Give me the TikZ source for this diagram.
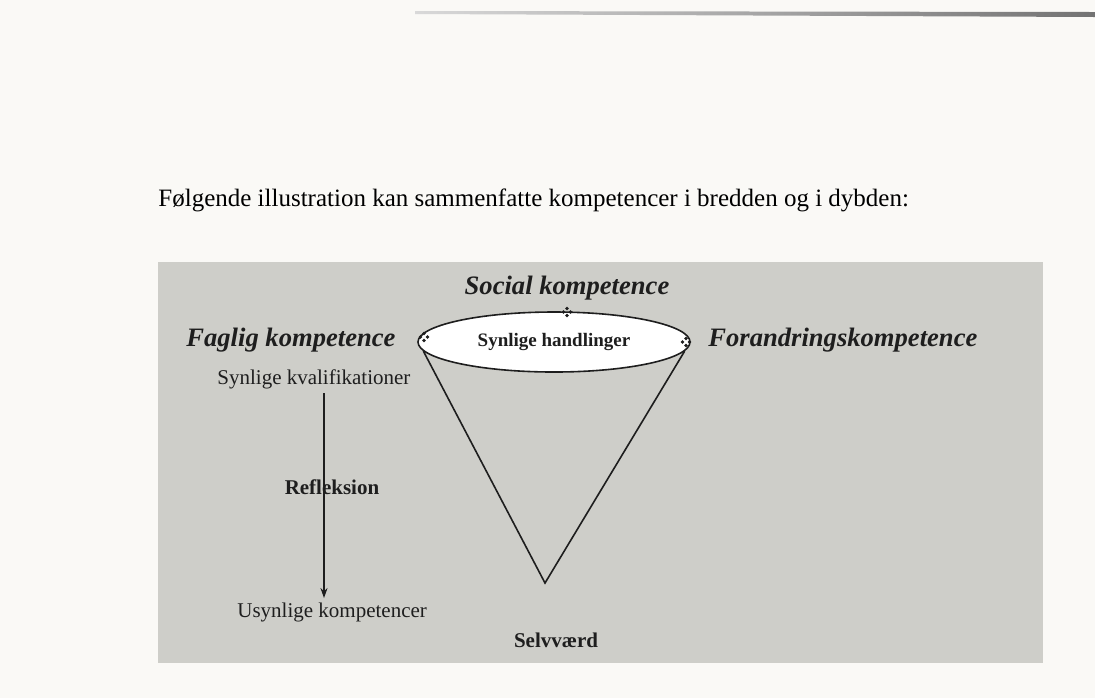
\documentclass[tikz,border=0pt]{standalone}
\usepackage{fontspec}
\setmainfont{Liberation Serif}
\usetikzlibrary{shapes.geometric,arrows.meta}
\definecolor{paper}{RGB}{250,249,246}
\definecolor{screen}{RGB}{206,206,201}
\definecolor{ink}{RGB}{30,30,30}
\tikzset{
  introtext/.style={font=\fontsize{12.5}{15}\selectfont, inner sep=0pt},
  heading/.style={font=\fontsize{13.3}{15}\selectfont\bfseries\itshape, text=ink, inner sep=0pt},
  plainlabel/.style={font=\fontsize{10.5}{12}\selectfont, text=ink, inner sep=0pt},
  boldlabel/.style={font=\fontsize{10.5}{12}\selectfont\bfseries, text=ink, inner sep=0pt},
}
\newcommand{\grip}[2]{%
  \foreach \dx/\dy in {0/-3.5,0/3.5,-3.5/0,3.5/0}
    \fill[ink] (#1+\dx,#2+\dy) circle (1.8);}

\begin{document}
\begin{tikzpicture}[x=0.5pt,y=-0.5pt]
	\fill[paper] (0,0) rectangle (1095,698);
	\useasboundingbox (0,0) rectangle (1095,698);
	% scan edge at the top
	\shade[left color=gray!30, right color=gray!90!black] (415,11) -- (1095,12) -- (1095,17) -- (415,14) -- cycle;
	\node[introtext, anchor=west] (intro) at (158,200) {Følgende illustration kan sammenfatte kompetencer i bredden og i dybden:};
	% screened box
	\fill[screen] (158,262) rectangle (1043,663);
	\node[ellipse, draw=ink, fill=white, line width=0.8pt, minimum width=136pt, minimum height=30pt, inner sep=0pt, boldlabel, font=\fontsize{9.5}{11}\selectfont\bfseries] (hand) at (554,342) {Synlige handlinger};
	\coordinate (tip) at (545,583);
	\draw[ink, line width=0.8pt] (hand.184) -- (tip) -- (hand.-4);
	\grip{567}{312}
	\grip{424}{337}
	\grip{686}{342}
	\node[heading] (social) at (567,288) {Social kompetence};
	\node[heading, anchor=west] (faglig) at (186,340) {Faglig kompetence};
	\node[heading, anchor=west] (forandring) at (708,340) {Forandringskompetence};
	\node[plainlabel, anchor=west] (kval) at (217,379) {Synlige kvalifikationer};
	\node[plainlabel, anchor=west] (usyn) at (237,612) {Usynlige kompetencer};
	\coordinate (arrx) at (324,0);
	\draw[ink, line width=0.7pt, -{Stealth[length=5pt,width=3.5pt]}, shorten <=2pt, shorten >=2pt] (kval.south -| arrx) -- (usyn.north -| arrx);
	\node[boldlabel] (refl) at (332,487) {Refleksion};
	\node[boldlabel] (selv) at (556,640) {Selvværd};
\end{tikzpicture}
\end{document}
